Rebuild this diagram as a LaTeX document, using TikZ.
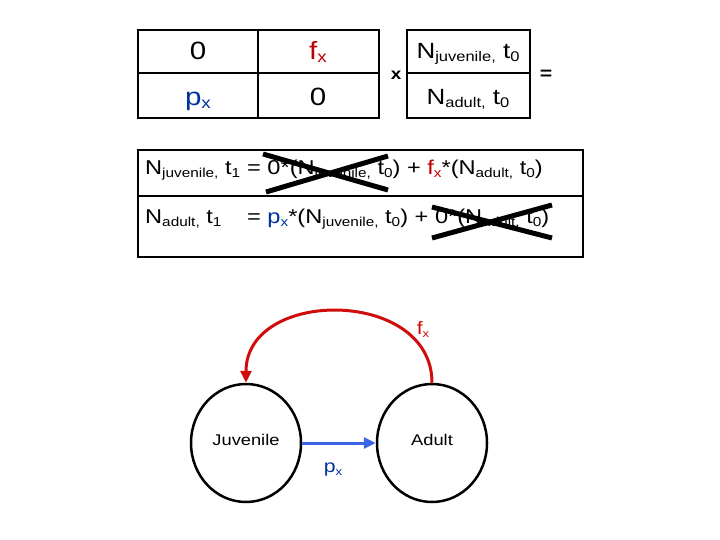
\documentclass[tikz,border=0pt]{standalone}
\usepackage{fontspec}
\setmainfont{Liberation Sans}[FakeStretch=1.18]
\usetikzlibrary{arrows.meta,shapes.geometric}
\definecolor{fred}{RGB}{192,0,0}
\definecolor{pblue}{RGB}{0,51,153}
\definecolor{arcred}{RGB}{208,12,12}
\definecolor{arrblue}{RGB}{60,100,230}
\newcommand{\sbx}[2][13]{\raisebox{-3pt}{\fontsize{#1}{#1}\selectfont #2}}
\begin{document}
\begin{tikzpicture}[x=1pt,y=-1pt,
  boxline/.style={line width=2.5pt,line cap=rect},
  mtext/.style={inner sep=0pt,anchor=base,font=\fontsize{22}{26}\selectfont},
  cell/.style={inner sep=0pt,anchor=base,font=\fontsize{25}{29}\selectfont},
  eq/.style={inner sep=0pt,anchor=base west,font=\fontsize{20}{24}\selectfont},
  cross/.style={line width=5pt},
  stage/.style={ellipse,draw,line width=2.5pt,minimum width=110pt,minimum height=118pt,inner sep=0pt,font=\fontsize{15.5}{18}\selectfont},
  parrow/.style={draw=arrblue,line width=3pt,-{Triangle[length=12pt,width=11pt]}},
  farrow/.style={draw=arcred,line width=3pt,-{Triangle[length=12pt,width=11pt]}},
  lbl/.style={inner sep=0pt,anchor=base,font=\fontsize{18}{21}\selectfont}]
\useasboundingbox (0,0) rectangle (720,540);
% matrix
\draw[boxline] (138,30) rectangle (379,118);
\draw[boxline] (138,73) -- (379,73);
\draw[boxline] (258,30) -- (258,118);
\node[cell] (m11) at (198,60) {0};
\node[cell,text=fred] (m12) at (318,60) {f\sbx[16]{x}};
\node[cell,text=pblue] (m21) at (198,106) {p\sbx[16]{x}};
\node[cell] (m22) at (318,106) {0};
\node[inner sep=0pt,font=\bfseries\fontsize{16}{18}\selectfont] (times) at (396,75) {x};
% vector
\draw[boxline] (407,30) rectangle (530,118);
\draw[boxline] (407,73) -- (530,73);
\node[mtext] (v1) at (468,59) {N\sbx[14]{juvenile,} t\sbx[14]{0}};
\node[mtext] (v2) at (468,105) {N\sbx[14]{adult,} t\sbx[14]{0}};
\node[inner sep=0pt,font=\bfseries\fontsize{18}{20}\selectfont] (eqs) at (546,75) {=};
% equations
\draw[boxline] (138,150) rectangle (583,257);
\draw[boxline] (138,196) -- (583,196);
\node[eq] (r1a) at (145,175) {N\sbx{juvenile,} t\sbx{1}};
\node[eq] (r1b) at (r1a.base east) {\ = 0*(N\sbx{juvenile,} t\sbx{0}) + \textcolor{fred}{f\sbx{x}}*(N\sbx{adult,} t\sbx{0})};
\node[eq] (r2a) at (145,223) {N\sbx{adult,} t\sbx{1}};
\node[eq] (r2b) at (r1b.base west |- r2a.base) {\ = \textcolor{pblue}{p\sbx{x}}*(N\sbx{juvenile,} t\sbx{0}) + 0*(N\sbx{adult,} t\sbx{0})};
\draw[cross] (263,154) -- (388,190);
\draw[cross] (266,192) -- (388,156);
\draw[cross] (432,207) -- (552,238);
\draw[cross] (432,238) -- (552,205);
% life cycle
\node[stage] (juv) at (246,443) {\raisebox{6pt}{Juvenile}};
\node[stage] (ad) at (432,443) {\raisebox{6pt}{Adult}};
\draw[parrow] (juv.east) -- (ad.west);
\draw[farrow] (ad.north) .. controls +(0,-95) and +(0,-95) .. (juv.north);
\node[lbl,text=pblue] (pl) at (333,472) {p\sbx[11]{x}};
\node[lbl,text=arcred] (fl) at (423,334) {f\sbx[11]{x}};
\end{tikzpicture}
\end{document}
